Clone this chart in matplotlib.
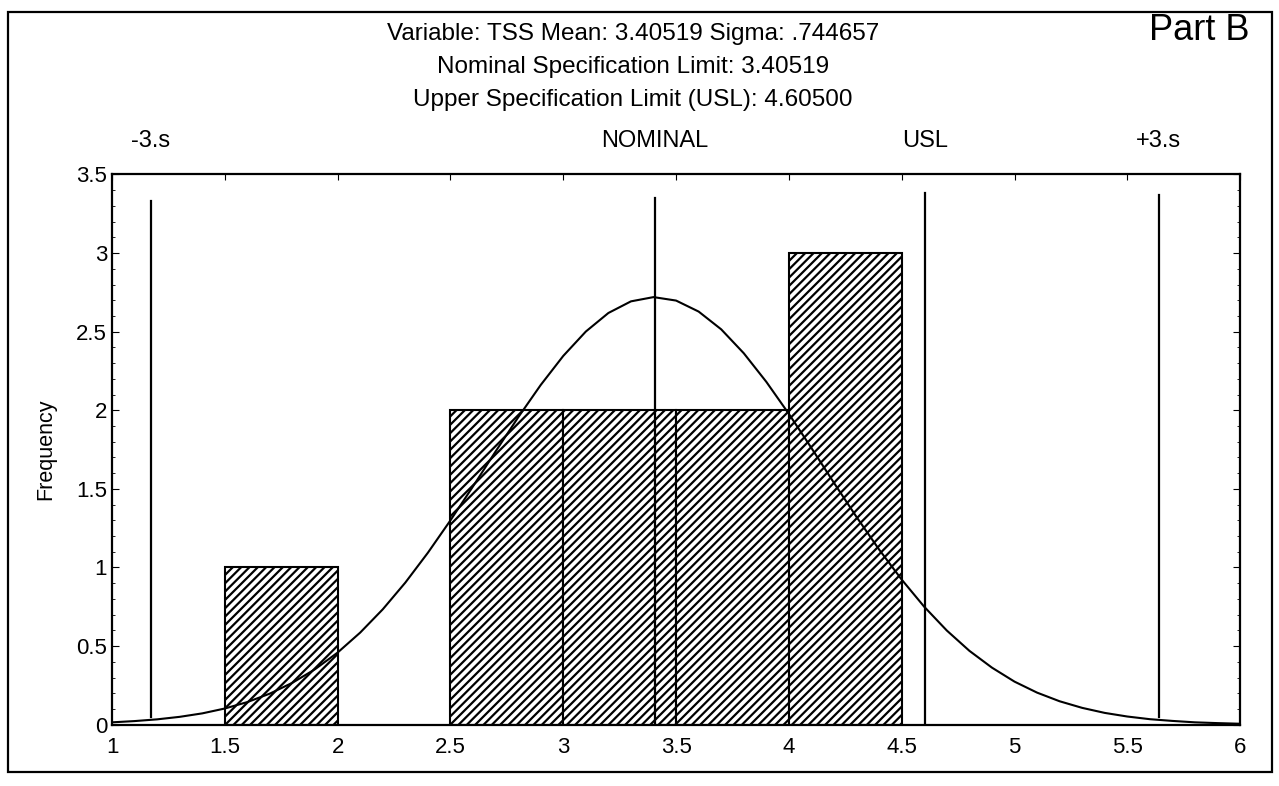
import matplotlib
matplotlib.use("Agg")
import matplotlib.pyplot as plt
from matplotlib.patches import Rectangle
from matplotlib.ticker import MultipleLocator, FormatStrFormatter

plt.rcParams['font.family'] = ['Liberation Sans', 'DejaVu Sans']
plt.rcParams['hatch.linewidth'] = 1.6

# histogram bars (left edge, width, frequency)
bar_left = [1.5, 2.5, 3.0, 3.5, 4.0]
bar_width = [0.5, 0.5, 0.5, 0.5, 0.5]
bar_freq = [1, 2, 2, 2, 3]

# fitted normal curve
curve_x = [1.0, 1.1, 1.2, 1.3, 1.4, 1.5, 1.6, 1.7, 1.8, 1.9,
           2.0, 2.1, 2.2, 2.3, 2.4, 2.5, 2.6, 2.7, 2.8, 2.9,
           3.0, 3.1, 3.2, 3.3, 3.4, 3.5, 3.6, 3.7, 3.8, 3.9,
           4.0, 4.1, 4.2, 4.3, 4.4, 4.5, 4.6, 4.7, 4.8, 4.9,
           5.0, 5.1, 5.2, 5.3, 5.4, 5.5, 5.6, 5.7, 5.8, 5.9, 6.0]
curve_y = [0.015, 0.023, 0.034, 0.050, 0.072, 0.103, 0.144, 0.198, 0.267, 0.353,
           0.459, 0.586, 0.734, 0.904, 1.094, 1.300, 1.516, 1.738, 1.955, 2.161,
           2.346, 2.501, 2.619, 2.693, 2.720, 2.698, 2.628, 2.515, 2.363, 2.181,
           1.977, 1.760, 1.538, 1.321, 1.114, 0.923, 0.750, 0.599, 0.470, 0.363,
           0.274, 0.204, 0.149, 0.107, 0.075, 0.052, 0.035, 0.024, 0.015, 0.010, 0.006]

# reference lines
ref_names = ["-3.s", "NOMINAL", "USL", "+3.s"]
ref_x = [1.171, 3.40519, 4.605, 5.639]
ref_lo = [0.05, 0.0, 0.0, 0.05]
ref_hi = [3.33, 3.35, 3.38, 3.37]

title_lines = ["Variable: TSS Mean: 3.40519 Sigma: .744657",
               "Nominal Specification Limit: 3.40519",
               "Upper Specification Limit (USL): 4.60500"]

fig = plt.figure(figsize=(12.79, 7.86), dpi=100)
ax = fig.add_axes([0.0876, 0.078, 0.882, 0.70])

ax.bar(bar_left, bar_freq, width=bar_width, align='edge',
       facecolor='white', edgecolor='black', linewidth=1.5, hatch='////')
ax.plot(curve_x, curve_y, color='black', linewidth=1.5)

for name, x, lo, hi in zip(ref_names, ref_x, ref_lo, ref_hi):
    ax.plot([x, x], [lo, hi], color='black', linewidth=1.6)
    ax.text(x, 1.06, name, transform=ax.get_xaxis_transform(),
            ha='center', va='center', fontsize=17)

ax.set_xlim(1, 6)
ax.set_ylim(0, 3.5)
ax.xaxis.set_major_locator(MultipleLocator(0.5))
ax.xaxis.set_major_formatter(FormatStrFormatter('%g'))
ax.yaxis.set_major_locator(MultipleLocator(0.5))
ax.yaxis.set_major_formatter(FormatStrFormatter('%g'))
ax.yaxis.set_minor_locator(MultipleLocator(0.1))
ax.tick_params(axis='y', which='both', direction='in', left=True, right=True, labelsize=16)
ax.tick_params(axis='y', which='major', length=5)
ax.tick_params(axis='y', which='minor', length=2.5)
ax.tick_params(axis='x', which='major', direction='in', bottom=False, top=True,
               length=4, labelsize=16, pad=9)
for s in ax.spines.values():
    s.set_linewidth(1.6)
ax.set_ylabel("Frequency", fontsize=15.5, labelpad=14)

for i, line in enumerate(title_lines):
    fig.text(0.495, 1 - (34 + 33 * i) / 786, line, ha='center', va='center', fontsize=17.5)
fig.text(0.977, 1 - 30 / 786, "Part B", ha='right', va='center', fontsize=26)

fig.patches.append(Rectangle((8 / 1279, 14 / 786), 1264 / 1279, 760 / 786,
                             transform=fig.transFigure, fill=False,
                             edgecolor='black', linewidth=1.6))

plt.savefig("out.png", dpi=100)
